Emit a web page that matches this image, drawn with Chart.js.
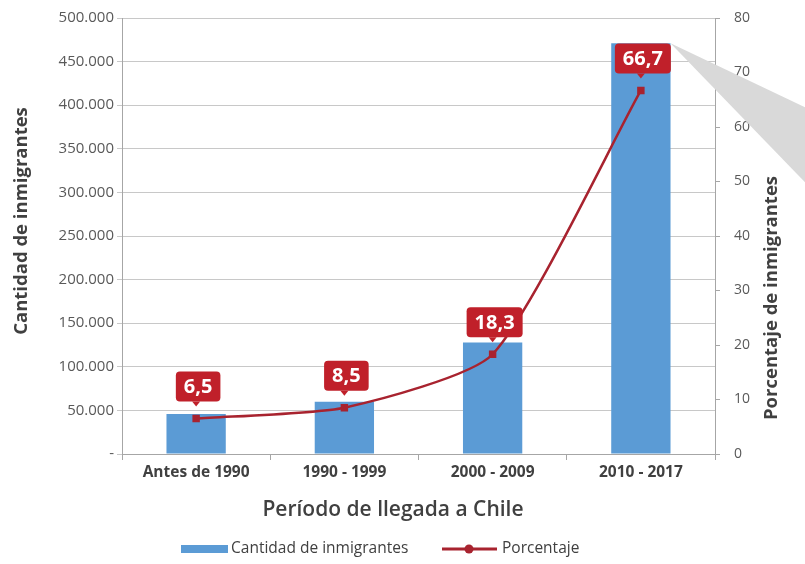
<!DOCTYPE html>
<html>
<head>
<meta charset="utf-8">
<script src="https://cdn.jsdelivr.net/npm/chart.js@4/dist/chart.umd.min.js"></script>
<style>
  html, body { margin: 0; padding: 0; background: #fff; }
  #wrap { width: 805px; height: 564px; position: relative; }
</style>
</head>
<body>
<div id="wrap"><canvas id="myChart"></canvas></div>
<script>
// datos
const periodos = ['Antes de 1990', '1990 - 1999', '2000 - 2009', '2010 - 2017'];
const cantidad = [46000, 60000, 128000, 471000];
const porcentaje = [6.5, 8.5, 18.3, 66.7];
const ticksCantidad = ['-', '50.000', '100.000', '150.000', '200.000', '250.000', '300.000', '350.000', '400.000', '450.000', '500.000'];
const ticksPorcentaje = ['0', '10', '20', '30', '40', '50', '60', '70', '80'];

const AZUL = '#5b9bd5';
const ROJO = '#a8232f';
const FUENTE = '"Open Sans", Lato, sans-serif';

// etiquetas, títulos, leyenda y la cuña gris
const extras = {
  id: 'extras',
  afterDraw(chart) {
    const ctx = chart.ctx;
    ctx.save();

    // cuña gris que sale de la última barra
    const bar = chart.getDatasetMeta(0).data[3];
    const tx = bar.x + bar.width / 2, ty = bar.y;
    ctx.fillStyle = '#d9d9d9';
    ctx.beginPath();
    ctx.moveTo(tx, ty);
    ctx.lineTo(chart.width, ty + 64);
    ctx.lineTo(chart.width, ty + 139);
    ctx.closePath();
    ctx.fill();

    // cajitas rojas con el porcentaje
    const meta = chart.getDatasetMeta(1);
    meta.data.forEach((pt, i) => {
      const txt = porcentaje[i].toFixed(1).replace('.', ',');
      ctx.font = 'bold 20px ' + FUENTE;
      const w = ctx.measureText(txt).width + 16, h = 30;
      const cx = pt.x + 2, bottom = pt.y - 17;
      ctx.fillStyle = '#c0202a';
      ctx.beginPath();
      ctx.roundRect(cx - w / 2, bottom - h, w, h, 4);
      ctx.fill();
      ctx.beginPath();
      ctx.moveTo(pt.x - 4, bottom);
      ctx.lineTo(pt.x, bottom + 5);
      ctx.lineTo(pt.x + 4, bottom);
      ctx.fill();
      ctx.fillStyle = '#fff';
      ctx.textAlign = 'center';
      ctx.textBaseline = 'middle';
      ctx.fillText(txt, cx, bottom - h / 2 + 1);
    });

    // títulos de los ejes
    ctx.fillStyle = '#404040';
    ctx.textAlign = 'center';
    ctx.textBaseline = 'middle';
    ctx.font = '600 21px ' + FUENTE;
    ctx.fillText('Período de llegada a Chile', 393, 510);

    ctx.font = 'bold 18.5px ' + FUENTE;
    ctx.save();
    ctx.translate(22, 221);
    ctx.rotate(-Math.PI / 2);
    ctx.fillText('Cantidad de inmigrantes', 0, 0);
    ctx.restore();
    ctx.save();
    ctx.translate(772, 298);
    ctx.rotate(-Math.PI / 2);
    ctx.fillText('Porcentaje de inmigrantes', 0, 0);
    ctx.restore();

    // leyenda
    const ly = 549;
    ctx.font = '15.5px ' + FUENTE;
    ctx.textAlign = 'left';
    ctx.fillStyle = AZUL;
    ctx.fillRect(181, ly - 4, 47, 8);
    ctx.fillStyle = '#404040';
    ctx.fillText(chart.data.datasets[0].label, 231, ly);
    ctx.strokeStyle = ROJO;
    ctx.lineWidth = 3;
    ctx.beginPath();
    ctx.moveTo(442, ly);
    ctx.lineTo(497, ly);
    ctx.stroke();
    ctx.fillStyle = ROJO;
    ctx.beginPath();
    ctx.arc(469, ly, 4.5, 0, Math.PI * 2);
    ctx.fill();
    ctx.fillStyle = '#404040';
    ctx.fillText(chart.data.datasets[1].label, 502, ly);

    ctx.restore();
  }
};

// ancho fijo del eje y sin relleno extra arriba/abajo
const fijarEje = ancho => s => {
  s.width = ancho;
  s.paddingTop = 0;
  s.paddingBottom = 0;
};

const myChart = new Chart(document.getElementById('myChart'), {
  type: 'bar',
  data: {
    labels: periodos,
    datasets: [
      {
        type: 'bar',
        label: 'Cantidad de inmigrantes',
        data: cantidad,
        backgroundColor: AZUL,
        yAxisID: 'y',
        categoryPercentage: 1,
        barPercentage: 0.4,
        order: 1
      },
      {
        type: 'line',
        label: 'Porcentaje',
        data: porcentaje,
        borderColor: ROJO,
        backgroundColor: ROJO,
        borderWidth: 2.5,
        tension: 0.2,
        pointStyle: 'rect',
        pointRadius: 3.5,
        yAxisID: 'y1',
        order: 0
      }
    ]
  },
  options: {
    responsive: true,
    maintainAspectRatio: false,
    animation: false,
    layout: { padding: { top: 18, left: 0, right: 0, bottom: 0 } },
    plugins: {
      legend: { display: false },
      tooltip: { enabled: false }
    },
    scales: {
      x: {
        grid: { display: true, drawOnChartArea: false, offset: true, tickLength: 6, color: '#a6a6a6' },
        border: { color: '#a6a6a6' },
        ticks: { color: '#404040', font: { family: FUENTE, size: 15.5, weight: 'bold' }, padding: 3 },
        afterFit: s => { s.height = 110; s.paddingLeft = 0; s.paddingRight = 0; }
      },
      y: {
        position: 'left',
        min: 0,
        max: 500000,
        ticks: {
          stepSize: 50000,
          color: '#595959',
          font: { family: FUENTE, size: 15 },
          padding: 3,
          callback: (v, i) => ticksCantidad[i]
        },
        grid: { color: '#c8c8c8', tickLength: 5 },
        border: { color: '#a6a6a6' },
        afterFit: fijarEje(122)
      },
      y1: {
        position: 'right',
        min: 0,
        max: 80,
        ticks: {
          stepSize: 10,
          color: '#595959',
          font: { family: FUENTE, size: 14 },
          padding: 14,
          callback: (v, i) => ticksPorcentaje[i]
        },
        grid: { drawOnChartArea: false, color: '#a6a6a6', tickLength: 5 },
        border: { color: '#a6a6a6' },
        afterFit: fijarEje(90)
      }
    }
  },
  plugins: [extras]
});
</script>
</body>
</html>
